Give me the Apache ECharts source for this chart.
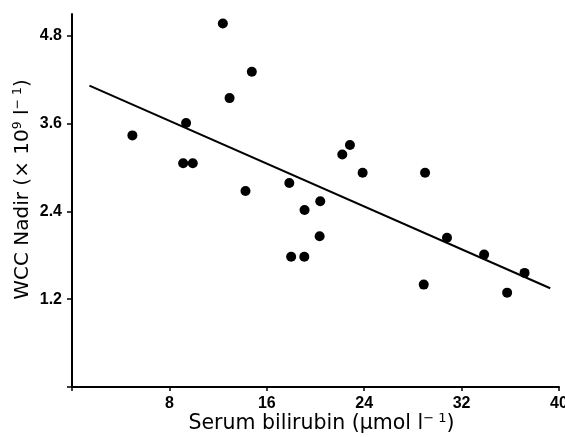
<!DOCTYPE html>
<html>
<head>
<meta charset="utf-8">
<script src="https://cdn.jsdelivr.net/npm/echarts@6/dist/echarts.min.js"></script>
<style>html,body{margin:0;padding:0;background:#fff}#c{width:565px;height:437px}</style>
</head>
<body>
<div id="c"></div>
<script>
// Serum bilirubin (µmol/l)
const bilirubin = [4.96, 9.37, 9.13, 9.92, 12.39, 14.77, 12.94, 14.25, 17.85, 19.10, 20.39, 22.20, 22.83, 23.87, 20.34, 18.00, 19.08, 29.00, 30.80, 33.85, 37.17, 28.89, 35.74];
// WCC nadir (x10^9/l)
const wccNadir = [3.44, 3.61, 3.06, 3.06, 4.97, 4.31, 3.95, 2.68, 2.79, 2.42, 2.54, 3.18, 3.31, 2.93, 2.06, 1.78, 1.78, 2.93, 2.04, 1.81, 1.56, 1.40, 1.29];
// regression line endpoints
const fitX = [1.43, 39.28];
const fitY = [4.12, 1.35];
const xTicks = [8, 16, 24, 32, 40];
const yTicks = [1.2, 2.4, 3.6, 4.8];

const tickFont = '"Liberation Sans", Arial, Helvetica, sans-serif';
const titleFont = '"DejaVu Sans", "Liberation Sans", sans-serif';
const chart = echarts.init(document.getElementById('c'), null, {renderer: 'canvas'});
chart.setOption({
  animation: false,
  grid: {left: 72, right: 6, top: 14, bottom: 50, outerBoundsMode: 'none', containLabel: false},
  xAxis: {
    type: 'value', min: 0, max: 40, interval: 8,
    splitLine: {show: false},
    axisLine: {onZero: false, lineStyle: {color: '#000', width: 2}},
    axisTick: {show: true, length: 4, lineStyle: {color: '#000', width: 1.5}},
    axisLabel: {color: '#000', fontSize: 16, fontWeight: 'bold', fontFamily: tickFont, margin: 9,
      formatter: v => xTicks.indexOf(v) >= 0 ? String(v) : ''},
    name: 'Serum bilirubin (\u03bcmol l{sup|\u2212 1})',
    nameLocation: 'middle', nameGap: 25, nameMoveOverlap: false,
    nameTextStyle: {color: '#000', fontSize: 20.5, fontFamily: titleFont, padding: [0, 0, 0, 12],
      rich: {sup: {fontSize: 13, fontFamily: titleFont, color: '#000', padding: [0, 0, 10, 0]}}}
  },
  yAxis: {
    type: 'value', min: 0, max: 5.1, interval: 1.2,
    splitLine: {show: false},
    axisLine: {onZero: false, lineStyle: {color: '#000', width: 2}},
    axisTick: {show: true, length: 5, lineStyle: {color: '#000', width: 1.5}},
    axisLabel: {color: '#000', fontSize: 16, fontWeight: 'bold', fontFamily: tickFont, margin: 10, showMaxLabel: false,
      formatter: v => yTicks.some(t => Math.abs(t - v) < 1e-6) ? v.toFixed(1) : ''},
    name: 'WCC Nadir (\u00d7 10{sup|9} l{sup|\u2212 1})',
    nameLocation: 'middle', nameGap: 38, nameMoveOverlap: false,
    nameTextStyle: {color: '#000', fontSize: 20, fontFamily: titleFont, padding: [0, 0, 0, 22],
      rich: {sup: {fontSize: 12.5, fontFamily: titleFont, color: '#000', padding: [0, 0, 10, 0]}}}
  },
  series: [
    {
      type: 'scatter', symbol: 'circle', symbolSize: 10,
      itemStyle: {color: '#000', opacity: 1},
      data: bilirubin.map((x, i) => [x, wccNadir[i]])
    },
    {
      type: 'line', symbol: 'none',
      lineStyle: {color: '#000', width: 2},
      data: fitX.map((x, i) => [x, fitY[i]])
    }
  ]
});
</script>
</body>
</html>
